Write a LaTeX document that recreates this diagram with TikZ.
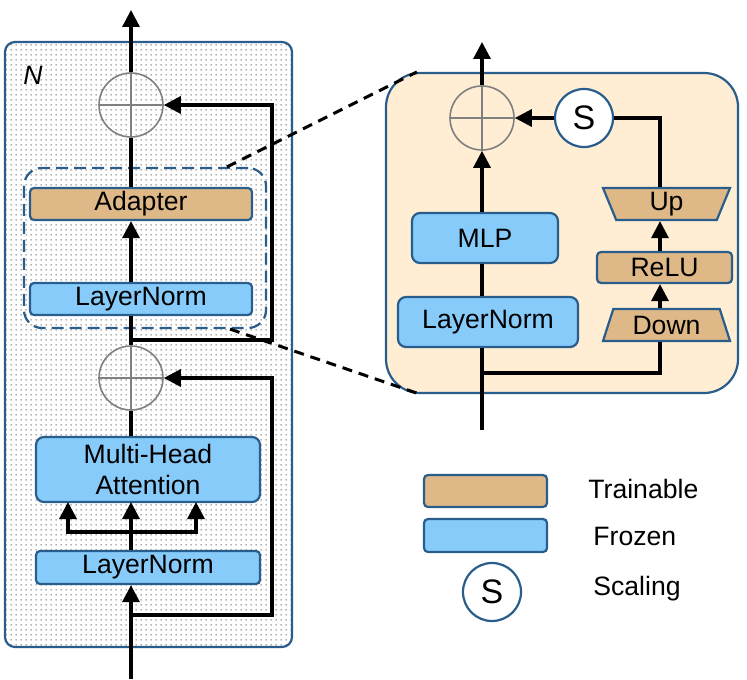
\documentclass[tikz,border=0pt]{standalone}
\usepackage{fontspec}
\setmainfont{Liberation Sans}
\usetikzlibrary{arrows.meta, positioning, shapes.geometric, patterns.meta, calc}

\definecolor{edgeblue}{RGB}{41,93,140}
\definecolor{frozenblue}{RGB}{135,203,250}
\definecolor{traintan}{RGB}{222,184,135}
\definecolor{panelpeach}{RGB}{255,237,212}

\tikzdeclarepattern{
  name=finedots,
  type=uncolored,
  bounding box={(0,0) and (2.3pt,2.3pt)},
  tile size={(2.3pt,2.3pt)},
  code={\fill (1.15pt,1.15pt) circle (0.45pt);}
}

\begin{document}
\begin{tikzpicture}[
  x=0.5pt, y=-0.5pt,
  font=\fontsize{13.3}{15.5}\selectfont,
  frozen/.style={rectangle, draw=edgeblue, line width=1.1pt, fill=frozenblue, rounded corners=2pt, inner sep=0pt, align=center},
  trainable/.style={frozen, fill=traintan},
  trap/.style={trapezium, trapezium stretches body, draw=edgeblue, line width=1.1pt, fill=traintan, inner sep=0pt, minimum width=63.5pt, minimum height=16pt},
  plus/.style={circle, draw=gray, line width=0.8pt, minimum size=32pt, inner sep=0pt,
    path picture={\draw[gray, line width=0.8pt] (path picture bounding box.north) -- (path picture bounding box.south)
      (path picture bounding box.west) -- (path picture bounding box.east);}},
  scaler/.style={circle, draw=edgeblue, line width=1.1pt, fill=white, minimum size=29pt, inner sep=0pt, font=\fontsize{17}{17}\selectfont},
  conn/.style={line width=1.6pt},
  arrow/.style={conn, -{Triangle[length=8.5pt, width=8.5pt]}},
  zoomline/.style={line width=1.5pt, dash pattern=on 5pt off 3.5pt},
  legend/.style={anchor=base west, inner sep=0pt}
]

\useasboundingbox (0,0) rectangle (747,679);

% Transformer block (left)
\node[draw=edgeblue, line width=1.1pt, rounded corners=5pt, pattern={finedots}, pattern color=gray!85, minimum width=143.5pt, minimum height=302.5pt] (block) at (148.5,344.5) {};
\node[legend] (n_label) at (23,85) {\itshape N};

\node[plus] (plus_top) at (131,105) {};
\node[draw=edgeblue, line width=1.1pt, dash pattern=on 6pt off 3pt, rounded corners=9pt, minimum width=121pt, minimum height=80pt] (ad_box) at (145,248) {};
\node[trainable, minimum width=111pt, minimum height=16pt] (adapter) at (141,204) {Adapter};
\node[frozen, minimum width=111pt, minimum height=16pt] (ln_top) at (141,299) {LayerNorm};
\node[plus] (plus_bot) at (131,378) {};
\node[frozen, rounded corners=4pt, minimum width=112pt, minimum height=32.5pt] (mha) at (148,469.5) {Multi-Head\\Attention};
\node[frozen, minimum width=112pt, minimum height=16.5pt] (ln_bot) at (148,567.5) {LayerNorm};

\coordinate (in_l) at (131,679);
\coordinate (out_l) at (131,10);
\coordinate (split_a) at (131,615);
\coordinate (split_b) at (131,340);
\coordinate (fork) at (131,532);

\draw[arrow] (in_l) -- (in_l |- ln_bot.south);
\draw[conn] (fork) -- (in_l |- ln_bot.north);
\foreach \dx in {-63,0,65}
  \draw[arrow] (fork) -- ++(\dx,0) -- ($(fork)+(\dx,-30)$);
\draw[conn] (in_l |- mha.north) -- (plus_bot.south);
\draw[arrow] (split_a) -- ++(141,0) |- (plus_bot.east);
\draw[conn] (plus_bot.north) -- (split_b) -- (in_l |- ln_top.south);
\draw[arrow] (in_l |- ln_top.north) -- (in_l |- adapter.south);
\draw[conn] (in_l |- adapter.north) -- (plus_top.south);
\draw[arrow] (split_b) -- ++(141,0) |- (plus_top.east);
\draw[arrow] (plus_top.north) -- (out_l);

% Adapter detail (right)
\node[draw=edgeblue, line width=1.1pt, fill=panelpeach, rounded corners=17pt, minimum width=176pt, minimum height=160pt] (panel) at (562,233) {};

\node[plus] (plus_r) at (482,118) {};
\node[scaler] (scale_s) at (584,118) {S};
\node[frozen, rounded corners=4pt, minimum width=73pt, minimum height=25pt] (mlp) at (485,238) {MLP};
\node[frozen, rounded corners=4pt, minimum width=90pt, minimum height=25pt] (ln_r) at (488,322) {LayerNorm};
\node[trap, trapezium left angle=119, trapezium right angle=119] (up) at (666.5,204) {Up};
\node[trainable, minimum width=67.5pt, minimum height=15.5pt] (relu) at (664.5,267.5) {ReLU};
\node[trap, trapezium left angle=61, trapezium right angle=61] (down) at (666.5,325) {Down};

\coordinate (in_r) at (482,430);
\coordinate (out_r) at (482,42);
\coordinate (split_r) at (482,373);
\coordinate (branch) at (660,373);

\draw[conn] (in_r) -- (in_r |- ln_r.south);
\draw[conn] (in_r |- ln_r.north) -- (in_r |- mlp.south);
\draw[arrow] (in_r |- mlp.north) -- (plus_r.south);
\draw[arrow] (plus_r.north) -- (out_r);
\draw[conn] (split_r) -- (branch) -- (branch |- down.south);
\draw[arrow] (branch |- down.north) -- (branch |- relu.south);
\draw[arrow] (branch |- relu.north) -- (branch |- up.south);
\draw[conn] (branch |- up.north) |- (scale_s.east);
\draw[arrow] (scale_s.west) -- (plus_r.east);

% Zoom lines
\draw[zoomline] ($(ad_box.north)+(82,0)$) -- ($(panel.north west)+(32,0)$);
\draw[zoomline] ($(ad_box.south)+(85,0)$) -- ($(panel.south west)+(32,-1)$);

% Legend
\node[trainable, minimum width=61.5pt, minimum height=16pt] (leg_train) at (485.5,491) {};
\node[frozen, minimum width=61.5pt, minimum height=16.5pt] (leg_frozen) at (485.5,535.5) {};
\node[scaler] (leg_scale) at (492,592) {S};
\node[legend] (txt_train) at (588,498) {Trainable};
\node[legend] (txt_frozen) at (593,545) {Frozen};
\node[legend] (txt_scale) at (593,595) {Scaling};

\end{tikzpicture}
\end{document}
